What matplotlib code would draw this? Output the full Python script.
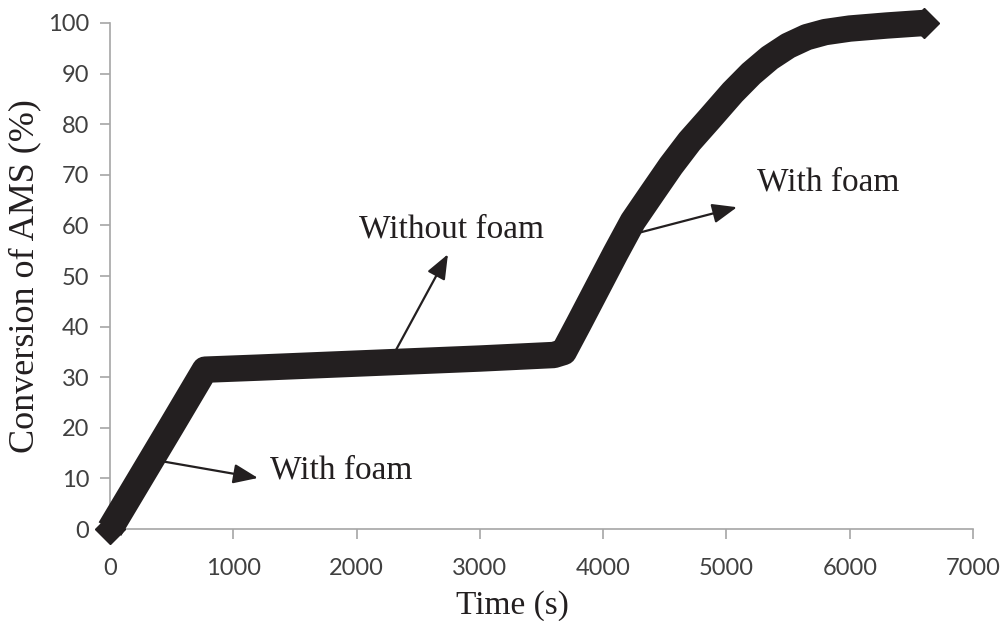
import matplotlib
matplotlib.use("Agg")
import matplotlib.pyplot as plt

# values
time_s = [0, 250, 500, 770, 1200, 1800, 2400, 3000, 3600, 3680, 3800, 3950,
          4100, 4240, 4400, 4550, 4700, 4860, 5050, 5200, 5350, 5500, 5650,
          5800, 6000, 6300, 6600]
conversion = [0, 10.2, 20.4, 31.5, 31.9, 32.5, 33.1, 33.7, 34.4, 35, 40.5, 47.5,
              54.5, 60.8, 66.5, 71.8, 76.6, 81, 86.3, 90, 93.1, 95.5, 97.2,
              98.2, 98.9, 99.5, 100]

x_ticks = [0, 1000, 2000, 3000, 4000, 5000, 6000, 7000]
y_ticks = [0, 10, 20, 30, 40, 50, 60, 70, 80, 90, 100]

serif = "Liberation Serif"
tick_color = "#404040"
spine_color = "#a6a6a6"

fig = plt.figure(figsize=(10.06, 6.21), dpi=100)
ax = fig.add_axes([0.1093, 0.148, 0.858, 0.815])

# thick band of the measured curve, pointed ends
ax.plot(time_s, conversion, color="#231f20", lw=19, solid_joinstyle="round",
        solid_capstyle="butt", marker="D", markersize=15, markevery=[0, -1],
        clip_on=False, zorder=3)

ax.set_xlim(0, 7000)
ax.set_ylim(0, 100)
ax.set_xticks(x_ticks)
ax.set_yticks(y_ticks)

for side in ["top", "right"]:
    ax.spines[side].set_visible(False)
for side in ["left", "bottom"]:
    ax.spines[side].set_color(spine_color)
    ax.spines[side].set_linewidth(1.2)

ax.tick_params(axis="both", direction="out", length=7, width=1.2,
               color=spine_color, labelcolor=tick_color, labelsize=17)
ax.tick_params(axis="x", pad=14)
ax.tick_params(axis="y", pad=8)
for lbl in ax.get_xticklabels() + ax.get_yticklabels():
    lbl.set_family("Lato")

ax.set_xlabel("Time (s)", family=serif, fontsize=24, color="#231f20")
ax.xaxis.set_label_coords(0.466, -0.12)
ax.set_ylabel("Conversion of AMS (%)", family=serif, fontsize=26, color="#231f20")
ax.yaxis.set_label_coords(-0.079, 0.5)

arrow = dict(arrowstyle="-|>,head_length=0.75,head_width=0.3", color="#231f20",
             lw=1.6, mutation_scale=20, shrinkA=0, shrinkB=0)

# annotations
ax.annotate("", xy=(1200, 10.1), xytext=(446, 13.3), arrowprops=arrow)
ax.text(1298, 11.7, "With foam", family=serif, fontsize=24, color="#231f20",
        ha="left", va="center")

ax.annotate("", xy=(2741, 54.3), xytext=(2311, 35), arrowprops=arrow)
ax.text(2766, 59.2, "Without foam", family=serif, fontsize=24, color="#231f20",
        ha="center", va="center")

ax.annotate("", xy=(5085, 63.6), xytext=(4298, 58.6), arrowprops=arrow)
ax.text(5247, 68.5, "With foam", family=serif, fontsize=24, color="#231f20",
        ha="left", va="center")

fig.savefig("out.png", dpi=100)
